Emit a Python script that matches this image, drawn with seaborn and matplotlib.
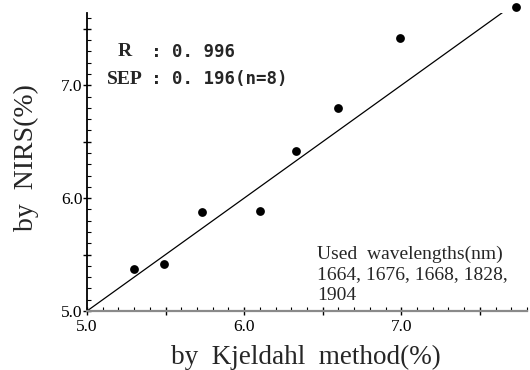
import numpy as np
import pandas as pd
import matplotlib
matplotlib.use("Agg")
import matplotlib.pyplot as plt
from matplotlib.ticker import MultipleLocator, FuncFormatter
import seaborn as sns

# Data
kjeldahl = [5.30, 5.49, 5.73, 6.10, 6.33, 6.60, 6.99, 7.73]
nirs = [5.37, 5.42, 5.88, 5.89, 6.42, 6.80, 7.42, 7.69]
line_x = [5.0, 7.69]
line_y = [5.0, 7.69]
x_label = "by  Kjeldahl  method(%)"
y_label = "by  NIRS(%)"
stat_names = ["R", "SEP"]
stat_values = ["0. 996", "0. 196(n=8)"]
wave_text = ["Used  wavelengths(nm)", "1664, 1676, 1668, 1828,", "1904"]

sns.set_theme(style="ticks")
plt.rcParams['font.family'] = ['Liberation Serif', 'DejaVu Serif']

fig = plt.figure(figsize=(5.3, 3.7), dpi=100)
L, R, B, T = 87, 527, 311, 13
ax = fig.add_axes([L/530, 1-B/370, (R-L)/530, (B-T)/370])

df = pd.DataFrame({"x": kjeldahl, "y": nirs})
ldf = pd.DataFrame({"x": line_x, "y": line_y})
sns.lineplot(data=ldf, x="x", y="y", ax=ax, color="black", linewidth=0.9)
sns.scatterplot(data=df, x="x", y="y", ax=ax, color="black", s=40,
                edgecolor="black", linewidth=0, zorder=3, clip_on=False)

ax.set_xlim(5.0, 7.80)
ax.set_ylim(5.0, 7.64)
ax.xaxis.set_major_locator(MultipleLocator(0.5))
ax.yaxis.set_major_locator(MultipleLocator(0.5))
ax.xaxis.set_minor_locator(MultipleLocator(0.1))
ax.yaxis.set_minor_locator(MultipleLocator(0.1))
fmt = FuncFormatter(lambda v, p: f"{v:.1f}" if abs(v - round(v)) < 1e-6 else "")
ax.xaxis.set_major_formatter(fmt)
ax.yaxis.set_major_formatter(fmt)
ax.tick_params(which="major", direction="inout", length=6, width=1.0,
               labelsize=12.5, colors="black")
ax.tick_params(axis="x", which="major", pad=3)
ax.tick_params(axis="y", which="major", pad=0)
ax.tick_params(which="minor", direction="in", length=3, width=0.8, colors="black")

for s in ["top", "right"]:
    ax.spines[s].set_visible(False)
ax.spines["left"].set_color("black")
ax.spines["left"].set_linewidth(1.3)
ax.spines["bottom"].set_color("#8a8a8a")
ax.spines["bottom"].set_linewidth(1.6)

ax.set_xlabel(x_label, fontsize=19.5)
ax.set_ylabel(y_label, fontsize=20)
ax.xaxis.label.set_va("center")
ax.yaxis.label.set_va("center")
ax.xaxis.set_label_coords((306 - L) / (R - L), (B - 357) / (B - T))
ax.yaxis.set_label_coords((26 - L) / (R - L), (B - 158) / (B - T))

# Statistics annotation
tr = ax.transAxes
def ax_coords(px, py):
    return ((px - L) / (R - L), (B - py) / (B - T))
mono = ["DejaVu Sans Mono"]
for i, (n, v) in enumerate(zip(stat_names, stat_values)):
    py = 52 + i * 27
    x0, y0 = ax_coords(125, py)
    ax.text(x0, y0, n, transform=tr, ha="center", va="center",
            fontsize=14, fontweight="bold")
    x1, _ = ax_coords(156, py)
    ax.text(x1, y0, ":", transform=tr, ha="center", va="center",
            fontsize=13, fontweight="bold", family=mono)
    x2, _ = ax_coords(172, py)
    ax.text(x2, y0, v, transform=tr, ha="left", va="center",
            fontsize=12.5, fontweight="bold", family=mono)

for i, t in enumerate(wave_text):
    x0, y0 = ax_coords(317, 254 + i * 20.5)
    ax.text(x0, y0, t, transform=tr, ha="left", va="center", fontsize=14)

fig.savefig("out.png", dpi=100)
